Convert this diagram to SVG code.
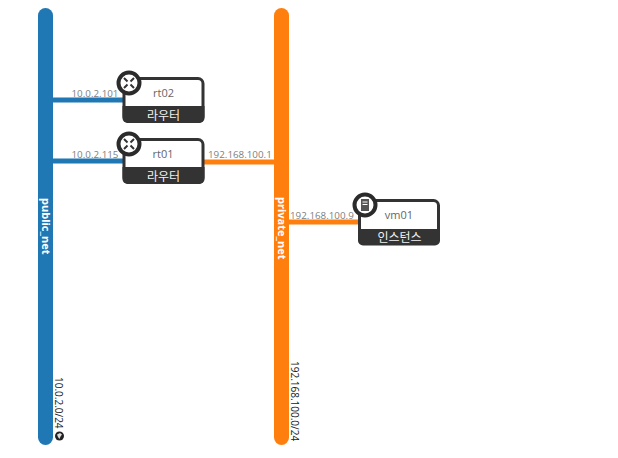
<svg xmlns="http://www.w3.org/2000/svg" width="618" height="458" viewBox="0 0 618 458">
<style>
text{font-family:"Open Sans","Noto Sans CJK KR",sans-serif}
.ip{font-size:9.800px;fill:#808080}
.cidr{font-size:10px;fill:#222}
.net{font-size:11px;font-weight:700;fill:#fff}
.name{font-size:11px;fill:#666;text-anchor:middle}
.type{font-size:12px;fill:#f2f2f2;text-anchor:middle;font-family:"Noto Sans CJK KR",sans-serif}
.box{fill:#fff;stroke:#333;stroke-width:3}
.band{fill:#333}
.ring{fill:#fff;stroke:#2b2b2b;stroke-width:4}
.ico{stroke:#333;stroke-width:2;fill:none}
</style>
<rect width="618" height="458" fill="#fff"/>
<g id="connectors">
<path d="M53 100H124M53 161H124" stroke="#1f77b4" stroke-width="5" fill="none"/>
<path d="M204 162H274M289 222H359" stroke="#ff7f0e" stroke-width="5" fill="none"/>
</g>
<g id="public_net">
<rect x="38" y="8" width="15" height="437" rx="7.500" fill="#1f77b4"/>
<text class="net" transform="translate(41.500,198) rotate(90)">public_net</text>
<text class="cidr" transform="translate(55,377) rotate(90)">10.0.2.0/24</text>
<circle cx="59.500" cy="436" r="4.500" fill="#222"/>
<path d="M57 434.500l3-1.500 2 1.500-1.500 2 -1 2.500-1.500-2z" fill="#ddd"/>
</g>
<g id="private_net">
<rect x="274" y="8" width="15" height="437" rx="7.500" fill="#ff7f0e"/>
<text class="net" transform="translate(277.500,197) rotate(90)">private_net</text>
<text class="cidr" transform="translate(291,361) rotate(90)">192.168.100.0/24</text>
</g>
<g id="rt02">
<rect class="box" x="124" y="78.500" width="79" height="43" rx="5"/>
<path class="band" d="M122.500 106H204.500V118a5 5 0 0 1-5 5H127.500a5 5 0 0 1-5-5z"/>
<circle class="ring" cx="129" cy="83" r="10.500"/>
<path class="ico" d="M124 78l3.500 3.500M134 78l-3.500 3.500M124 88l3.500-3.500M134 88l-3.500-3.500"/>
<text class="name" x="163.500" y="97">rt02</text>
<text class="type" x="163.500" y="119.500">라우터</text>
<text class="ip" x="71.500" y="96.500">10.0.2.101</text>
</g>
<g id="rt01">
<rect class="box" x="124" y="139.500" width="79" height="43" rx="5"/>
<path class="band" d="M122.500 167H204.500V179a5 5 0 0 1-5 5H127.500a5 5 0 0 1-5-5z"/>
<circle class="ring" cx="129" cy="144" r="10.500"/>
<path class="ico" d="M124 139l3.500 3.500M134 139l-3.500 3.500M124 149l3.500-3.500M134 149l-3.500-3.500"/>
<text class="name" x="163" y="158">rt01</text>
<text class="type" x="163.500" y="180.500">라우터</text>
<text class="ip" x="71.500" y="157.500">10.0.2.115</text>
<text class="ip" x="208" y="157.500">192.168.100.1</text>
</g>
<g id="vm01">
<rect class="box" x="359.500" y="200.500" width="79" height="43" rx="5"/>
<path class="band" d="M358 229H440V240.500a5 5 0 0 1-5 5H363a5 5 0 0 1-5-5z"/>
<circle class="ring" cx="365" cy="205" r="10.500"/>
<rect x="361" y="199" width="8" height="12" fill="#555"/>
<path d="M362.500 202h5M362.500 204.500h5" stroke="#fff" stroke-width="1"/>
<text class="name" x="399" y="219">vm01</text>
<text class="type" x="399.500" y="241.500">인스턴스</text>
<text class="ip" x="290" y="218.500">192.168.100.9</text>
</g>
</svg>
